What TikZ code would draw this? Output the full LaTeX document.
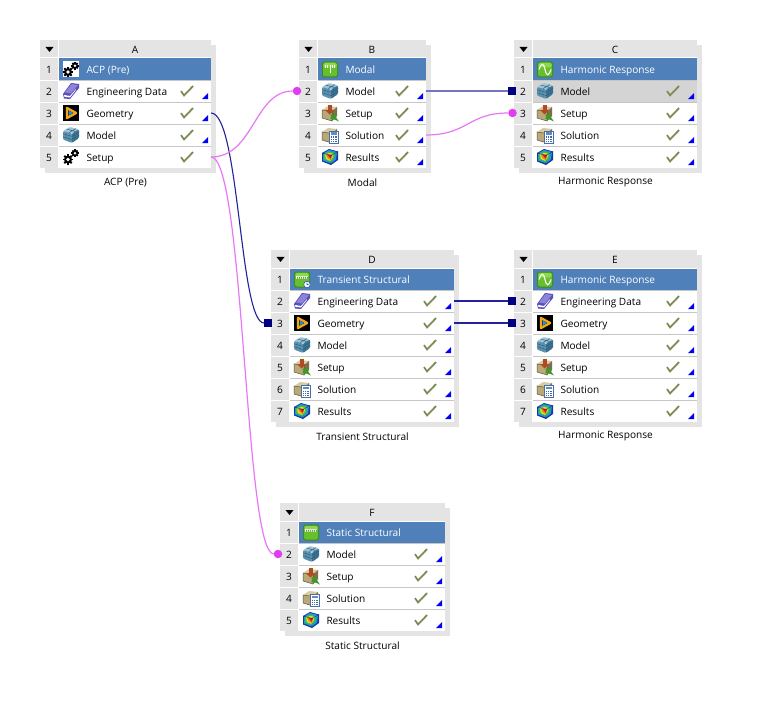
\documentclass[tikz,border=0pt]{standalone}
\usepackage{fontspec}
\setmainfont{Open Sans}
\definecolor{panel}{HTML}{E4E4E4}
\definecolor{rowline}{HTML}{C6C6C6}
\definecolor{titleblue}{HTML}{4F80BA}
\definecolor{rowsel}{HTML}{D4D4D4}
\definecolor{linkblue}{HTML}{22229A}
\definecolor{portblue}{HTML}{000080}
\definecolor{linkpink}{HTML}{E678F6}
\definecolor{portpink}{HTML}{E03CF0}
\definecolor{checkgreen}{HTML}{77894F}
\newcommand{\defhex}[1]{\definecolor{HTML#1}{HTML}{#1}}
\defhex{5B50B8}\defhex{8C84D8}\defhex{F0A818}\defhex{2A8CE0}\defhex{9CC3D6}\defhex{5F95B3}\defhex{3D7596}\defhex{2E5E7A}
\defhex{D9CBA0}\defhex{B9A878}\defhex{7E6E4A}\defhex{5E5238}\defhex{B04A20}\defhex{3C9A28}\defhex{4A6EA8}\defhex{5F8CC8}
\defhex{3F66A8}\defhex{2FA8C8}\defhex{30A030}\defhex{1838A0}\defhex{E8E020}\defhex{F08020}\defhex{D82018}\defhex{38C060}
\defhex{182878}\defhex{3C8C1C}\defhex{66C02C}\defhex{8CD850}\defhex{2A5CA8}\defhex{2098C8}
\tikzset{
  wbtext/.style={inner sep=0pt,font=\fontsize{10.1}{12}\selectfont,text=black},
  rowbox/.style={inner sep=0pt,outer sep=0pt},
  bluelink/.style={draw=linkblue,line width=1.1pt},
  strongblue/.style={draw=linkblue,line width=1.7pt},
  softblue/.style={draw=linkblue!62,line width=2pt},
  pinklink/.style={draw=linkpink,line width=1.2pt},
  portsq/.style={fill=portblue,inner sep=0pt,minimum size=8pt,outer sep=0pt},
  portdot/.style={circle,fill=portpink,inner sep=0pt,minimum size=8.5pt,outer sep=0pt},
}
% ---- icons, local coordinates in pixels around the icon centre
\newcommand{\gearat}[3]{%
  \foreach \ga in {0,45,...,315}{\draw[black,line width=1.8pt] (#1,#2) -- ++(\ga:#3*1.32);}
  \fill[black] (#1,#2) circle (#3);
  \fill[white] (#1,#2) circle (#3*0.45);}
\newcommand{\icgears}{\gearat{-3}{2.5}{4}\gearat{4}{-3.8}{2.9}}
\newcommand{\icgearsw}{\fill[white] (-8,-8) rectangle (8,8);\icgears}
\newcommand{\icbook}{%
  \fill[HTML5B50B8] (-8,3) -- (0,-8) -- (8,-7) -- (8,-3) -- (-1,8) -- (-7,7.5) -- cycle;
  \fill[HTML8C84D8] (-6,1.5) -- (0.5,-7) -- (7,-6) -- (0,2.5) -- cycle;
  \fill[white] (-7,4) -- (-1,5) -- (5,-2) -- (4.5,-.5) -- (-1,6.5) -- (-6.5,5.8) -- cycle;}
\newcommand{\icgeom}{%
  \fill[black] (-8,-8) rectangle (8,8);
  \draw[HTMLF0A818,line width=2.4pt,line join=round] (-4,-5) -- (5,0) -- (-4,5) -- cycle;
  \fill[HTML2A8CE0] (-2.5,-2.5) -- (2,0) -- (-2.5,2.5) -- cycle;}
\newcommand{\cuboid}[3]{%
  \fill[#1,rounded corners=1pt] (-8,-4) -- (-1,-8) -- (8,-5.5) -- (1,-1.5) -- cycle;
  \fill[#2,rounded corners=1pt] (-8,-4) -- (1,-1.5) -- (1,8) -- (-8,4.5) -- cycle;
  \fill[#3,rounded corners=1pt] (1,-1.5) -- (8,-5.5) -- (8,3) -- (1,8) -- cycle;}
\newcommand{\icmodel}{%
  \cuboid{HTML9CC3D6}{HTML5F95B3}{HTML3D7596}
  \draw[HTML2E5E7A,line width=.45pt] (-5,-3.2) -- (-5,5.5) (-2,-2.4) -- (-2,6.7) (-8,-1.2) -- (1,1.4) (-8,1.6) -- (1,4.6)
    (3.5,-3) -- (3.5,6.2) (6,-4.4) -- (6,4.4) (1,1.4) -- (8,-2.6) (1,4.6) -- (8,.2)
    (-4.5,-6) -- (4.5,-3.5) (-2,-2.4) -- (5,-6.4);}
\newcommand{\tanbox}{%
  \fill[HTMLD9CBA0] (-8,-3) -- (-2,-7) -- (7,-6) -- (2,-1.5) -- cycle;
  \fill[HTMLB9A878] (-8,-3) -- (2,-1.5) -- (2,8) -- (-8,5) -- cycle;
  \fill[HTML7E6E4A] (2,-1.5) -- (7,-6) -- (7,3) -- (2,8) -- cycle;
  \draw[HTML5E5238,line width=.5pt] (-8,-3) -- (2,-1.5) -- (2,8) -- (-8,5) -- cycle;}
\newcommand{\icsetup}{%
  \tanbox
  \fill[HTMLB04A20] (-2.5,-8) rectangle (1.5,-3);
  \fill[HTMLB04A20] (-5,-3) -- (4,-3) -- (-.5,1.5) -- cycle;
  \draw[HTML3C9A28,line width=2pt,-latex] (1,2) -- (9,8.5);}
\newcommand{\icsol}{%
  \tanbox
  \fill[white] (-1,-4) rectangle (8.5,8.5);
  \draw[HTML4A6EA8,line width=.8pt] (-1,-4) rectangle (8.5,8.5);
  \fill[HTML5F8CC8] (.5,-2.5) rectangle (7,0);
  \foreach \cy in {1.5,3.7,5.9}{\foreach \cx in {.5,2.8,5.1}{\fill[HTML3F66A8] (\cx,\cy) rectangle ++(1.6,1.4);}}}
\newcommand{\icres}{%
  \fill[HTML1838A0] (-8,-4) -- (-1,-8) -- (8,-5.5) -- (8,3) -- (1,8) -- (-8,4.5) -- cycle;
  \fill[HTML2098C8] (-7,-3.5) -- (-1,-7) -- (7,-5) -- (6,2.5) -- (1,6.5) -- (-7,3.5) -- cycle;
  \fill[HTML38C060] (-6,-3) -- (-1,-5.5) -- (5,-4) -- (4,1.5) -- (.5,5) -- (-6,2.5) -- cycle;
  \fill[HTMLE8E020] (-5,-2.5) -- (-.5,-4) -- (3.5,-3) -- (2.5,.5) -- (.5,4) -- (-4,2) -- cycle;
  \fill[HTMLF08020] (-4,-2.5) -- (2.5,-2.5) -- (.5,3) -- (-2.5,1) -- cycle;
  \fill[HTMLD82018] (-2.5,-2) -- (2,-2) -- (.5,1.5) -- cycle;
  \draw[HTML182878,line width=.4pt] (-8,-4) -- (1,-1.5) -- (8,-5.5) (1,-1.5) -- (1,8);}
\newcommand{\greenbase}{%
  \fill[HTML3C8C1C,rounded corners=2.5pt] (-8,-8) rectangle (8,8);
  \fill[HTML66C02C,rounded corners=2pt] (-7,-7) rectangle (7,7);
  \fill[HTML8CD850,rounded corners=1.5pt] (-6.5,-6.5) rectangle (6.5,-2);}
\newcommand{\icmodal}{\greenbase
  \draw[white,line width=.9pt] (-4.5,-4) -- (-4.5,-1) (-2.5,-4) -- (-2.5,-1) (0,-4) -- (0,4) (2.5,-4) -- (2.5,-1) (4.5,-4) -- (4.5,-1);}
\newcommand{\icharm}{\greenbase
  \draw[white,line width=1.1pt] (-6,0) .. controls (-3.5,-7) and (-1.5,-7) .. (0,0) .. controls (1.5,7) and (3.5,7) .. (6,0);}
\newcommand{\ichatch}{%
  \fill[white] (-6,-3.2) rectangle (6,-.4);
  \foreach \hx in {-5,-3,...,5}{\draw[HTML3C8C1C,line width=.6pt] (\hx,-.6) -- (\hx+1.2,-3);}}
\newcommand{\icstatic}{\greenbase\ichatch}
\newcommand{\ictrans}{\greenbase\ichatch
  \fill[white] (5,5) circle (3.5);
  \draw[HTML2A5CA8,line width=.7pt] (5,5) circle (3.3) (5,3) -- (5,5) -- (6.5,5);}
\newcommand{\placeicon}[3]{\begin{scope}[shift={(#1,#2)}]#3\end{scope}}
\newcommand{\checkmk}[2]{%
  \draw[checkgreen!55,line width=1pt] (#1-6,#2+.8) -- (#1-3,#2+5.2) -- (#1+6,#2-4);
  \draw[checkgreen,line width=1.5pt] (#1-6,#2) -- (#1-3,#2+4.2) -- (#1+6,#2-5);}
\newcommand{\cornertri}[2]{\fill[blue] (#1-3,#2-2.8) -- (#1-9,#2-2.8) -- (#1-3,#2-9) -- cycle;}
% ---- a system block: name, left, right, top, last row, title icon, title, caption, rows
\newcommand{\wbblock}[9]{%
  \pgfmathsetmacro{\bl}{#2}\pgfmathsetmacro{\br}{#3}\pgfmathsetmacro{\bt}{#4}
  \pgfmathsetmacro{\bb}{#4+18+22*#5}
  \pgfmathsetmacro{\dv}{#2+19}
  \pgfmathsetmacro{\cw}{#3-#2-19}
  \fill[panel] (\bl+5,\bt+5) rectangle (\br+5,\bb+5);
  \fill[panel] (\bl,\bt) rectangle (\br,\bb);
  \fill[black] (\bl+5.5,\bt+7) -- (\bl+13.5,\bt+7) -- (\bl+9.5,\bt+12) -- cycle;
  \draw[white,line width=1pt] (\dv-.7,\bt) -- (\dv-.7,\bb) (\bl,\bt+18) -- (\br,\bt+18);
  \node[wbtext] (#1head) at ({(\dv+\br)/2},\bt+9.5) {#1};
  \node[wbtext] (#1n1) at (\bl+9,\bt+29.5) {1};
  \node[rowbox,fill=titleblue,minimum width=\cw pt,minimum height=22pt,anchor=north west] (#11) at (\dv,\bt+18.5) {};
  \placeicon{\bl+31}{\bt+29.5}{#6}
  \node[wbtext,text=white,anchor=base west] (#1t1) at (\bl+46.3,\bt+33.6) {#7};
  \foreach \ic/\tx/\cn/\rf [count=\ri from 2] in {#9}{
    \pgfmathsetmacro{\ry}{\bt+18+22*(\ri-1)}
    \pgfmathsetmacro{\rc}{\ry+11}
    \pgfmathsetmacro{\rb}{\ry+22}
    \node[rowbox,fill=\rf,minimum width=\cw pt,minimum height=22pt,anchor=north west] (#1\ri) at (\dv,\ry) {};
    \draw[rowline,line width=1pt] (\dv,\ry+.4) -- (\br,\ry+.4);
    \draw[white,line width=1pt] (\bl,\ry+.4) -- (\dv,\ry+.4);
    \node[wbtext] (#1n\ri) at (\bl+9,\rc+.5) {\ri};
    \placeicon{\bl+31}{\rc}{\csname ic\ic\endcsname}
    \node[wbtext,anchor=base west] (#1t\ri) at (\bl+46.3,\rc+4.4) {\tx};
    \checkmk{\br-24}{\rc}
    \ifnum\cn=1 \cornertri{\br}{\rb}\fi
  }
  \node[wbtext] (#1cap) at ({(\bl+\br)/2},\bb+14.5) {#8};
}
\begin{document}
\begin{tikzpicture}[x=1pt,y=-1pt]
\useasboundingbox (0,0) rectangle (757,711);
\fill[white] (0,0) rectangle (757,711);
\wbblock{A}{40}{211}{40}{5}{\icgearsw}{ACP (Pre)}{ACP (Pre)}{book/Engineering Data/1/white,geom/Geometry/1/white,model/Model/1/white,gears/Setup/0/white}
\wbblock{B}{299}{426}{40}{5}{\icmodal}{Modal}{Modal}{model/Model/1/white,setup/Setup/1/white,sol/Solution/1/white,res/Results/1/white}
\wbblock{C}{514}{697}{40}{5}{\icharm}{Harmonic Response}{Harmonic Response}{model/Model/1/rowsel,setup/Setup/1/white,sol/Solution/1/white,res/Results/1/white}
\wbblock{D}{271}{454}{250}{7}{\ictrans}{Transient Structural}{Transient Structural}{book/Engineering Data/1/white,geom/Geometry/1/white,model/Model/1/white,setup/Setup/1/white,sol/Solution/1/white,res/Results/1/white}
\wbblock{E}{514}{697}{250}{7}{\icharm}{Harmonic Response}{Harmonic Response}{book/Engineering Data/1/white,geom/Geometry/1/white,model/Model/1/white,setup/Setup/1/white,sol/Solution/1/white,res/Results/1/white}
\wbblock{F}{280}{445}{503}{5}{\icstatic}{Static Structural}{Static Structural}{model/Model/1/white,setup/Setup/1/white,sol/Solution/1/white,res/Results/1/white}
% ports
\node[portdot] (pB2) at (297,91) {};
\node[portsq] (pC2) at (512,91) {};
\node[portdot] (pC3) at (512.5,113) {};
\node[portsq] (pD3) at (268,323) {};
\node[portsq] (pE2) at (512,301) {};
\node[portsq] (pE3) at (512,323) {};
\node[portdot] (pF2) at (278,554) {};
% connectors
\draw[softblue] (B2.east) -- (pC2);
\draw[strongblue] (D2.east) -- (pE2);
\draw[strongblue] (D3.east) -- (pE3);
\draw[pinklink] (B4.east) .. controls (468,135) and (468,113) .. (pC3);
\draw[bluelink] (A3.east) .. controls (239.5,113) and (239.5,323) .. (pD3);
\draw[pinklink] (A5.east) .. controls (254,157) and (254,91) .. (pB2);
\draw[pinklink] (A5.east) .. controls (244.5,157) and (244.5,554) .. (pF2);
\end{tikzpicture}
\end{document}
